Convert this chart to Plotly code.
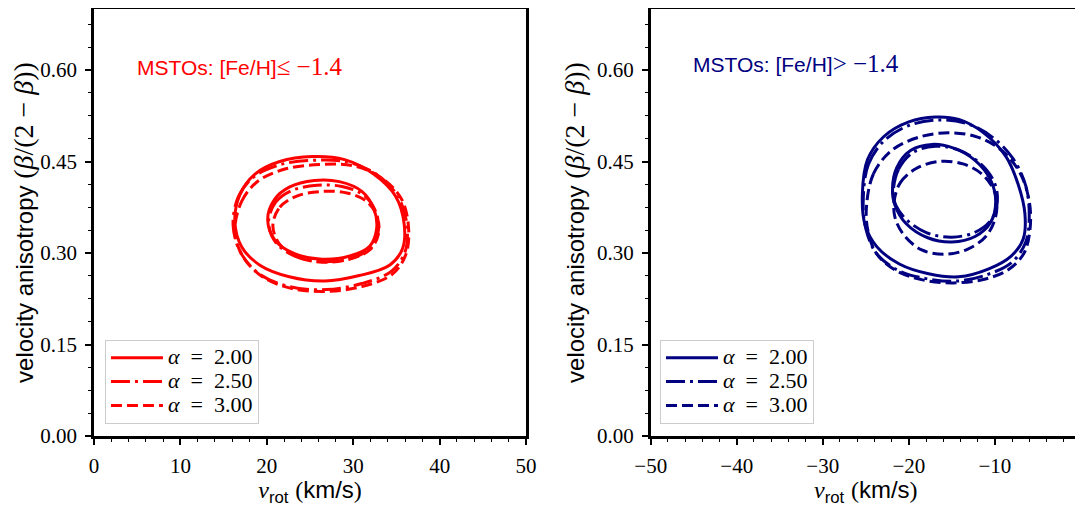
import plotly.graph_objects as go

# ---------------- data ----------------
alphas = ["2.00", "2.50", "3.00"]
dashes = ["solid", "19px,5px,3px,5px", "11px,5px"]

# Left panel: [Fe/H] <= -1.4  (v_rot km/s, beta/(2-beta))
L20_outer_v = [16.3, 16.9, 18.6, 21.5, 25.3, 29.0, 32.4, 34.9, 35.9, 35.7, 34.2, 30.7, 26.7, 22.6, 19.2, 17.1]
L20_outer_b = [0.352, 0.396, 0.429, 0.450, 0.458, 0.453, 0.429, 0.393, 0.347, 0.307, 0.280, 0.263, 0.254, 0.261, 0.280, 0.310]
L20_inner_v = [20.1, 20.9, 22.6, 25.5, 28.4, 31.0, 32.4, 32.7, 31.9, 29.6, 26.1, 23.2, 21.0]
L20_inner_b = [0.355, 0.388, 0.408, 0.419, 0.417, 0.401, 0.372, 0.339, 0.311, 0.295, 0.290, 0.299, 0.320]

L25_outer_v = [16.1, 16.7, 18.5, 21.6, 25.5, 29.4, 32.8, 35.2, 36.2, 36.0, 34.4, 31.0, 26.9, 22.6, 19.2, 17.0]
L25_outer_b = [0.345, 0.392, 0.425, 0.445, 0.452, 0.449, 0.428, 0.392, 0.347, 0.302, 0.270, 0.250, 0.240, 0.245, 0.265, 0.300]
L25_inner_v = [20.2, 21.0, 22.8, 25.8, 28.7, 31.2, 32.6, 32.9, 32.0, 29.7, 26.3, 23.4, 21.1]
L25_inner_b = [0.350, 0.383, 0.402, 0.411, 0.409, 0.395, 0.368, 0.336, 0.308, 0.291, 0.286, 0.294, 0.316]

L30_outer_v = [16.3, 17.1, 19.0, 22.2, 26.2, 30.0, 33.3, 35.6, 36.4, 36.1, 34.5, 31.0, 26.9, 22.8, 19.4, 17.2]
L30_outer_b = [0.335, 0.385, 0.418, 0.438, 0.445, 0.443, 0.423, 0.388, 0.342, 0.298, 0.265, 0.245, 0.237, 0.242, 0.262, 0.295]
L30_inner_v = [20.7, 21.5, 23.4, 26.5, 29.4, 31.6, 32.8, 32.9, 31.9, 29.6, 26.4, 23.6, 21.5]
L30_inner_b = [0.345, 0.375, 0.393, 0.401, 0.398, 0.384, 0.358, 0.330, 0.305, 0.290, 0.285, 0.293, 0.314]

# Right panel: [Fe/H] > -1.4
R20_outer_v = [-25.4, -24.8, -22.9, -20.0, -16.9, -14.2, -11.3, -8.7, -7.3, -6.5, -6.7, -8.1, -10.7, -14.2, -17.7, -21.1, -23.7, -25.1]
R20_outer_b = [0.396, 0.453, 0.491, 0.515, 0.523, 0.519, 0.497, 0.458, 0.413, 0.364, 0.323, 0.295, 0.274, 0.261, 0.266, 0.282, 0.310, 0.347]
R20_inner_v = [-21.9, -21.4, -19.8, -17.3, -14.8, -12.3, -10.5, -9.9, -10.5, -12.3, -15.0, -17.8, -20.3, -21.6]
R20_inner_b = [0.405, 0.440, 0.468, 0.478, 0.472, 0.452, 0.420, 0.385, 0.350, 0.327, 0.318, 0.325, 0.348, 0.378]

R25_outer_v = [-25.3, -24.7, -22.8, -19.8, -16.4, -13.2, -10.3, -7.9, -6.4, -6.0, -6.4, -8.0, -10.8, -14.4, -18.0, -21.3, -23.8, -25.0]
R25_outer_b = [0.385, 0.445, 0.485, 0.510, 0.518, 0.512, 0.490, 0.455, 0.410, 0.360, 0.318, 0.285, 0.265, 0.254, 0.258, 0.272, 0.300, 0.340]
R25_inner_v = [-21.8, -21.2, -19.5, -16.9, -14.2, -11.8, -10.1, -9.7, -10.4, -12.3, -15.0, -17.9, -20.3, -21.5]
R25_inner_b = [0.400, 0.437, 0.465, 0.475, 0.469, 0.448, 0.417, 0.385, 0.355, 0.334, 0.326, 0.333, 0.355, 0.378]

R30_outer_v = [-24.9, -24.1, -22.0, -18.8, -15.3, -12.0, -9.2, -7.1, -6.0, -5.9, -6.6, -8.4, -11.2, -14.8, -18.4, -21.6, -23.8, -24.8]
R30_outer_b = [0.380, 0.430, 0.468, 0.490, 0.497, 0.490, 0.468, 0.432, 0.385, 0.340, 0.300, 0.273, 0.257, 0.251, 0.256, 0.272, 0.300, 0.340]
R30_inner_v = [-21.7, -21.0, -19.2, -16.5, -13.7, -11.3, -9.9, -9.9, -11.0, -13.2, -15.8, -18.5, -20.6, -21.6]
R30_inner_b = [0.385, 0.415, 0.438, 0.450, 0.446, 0.427, 0.395, 0.360, 0.328, 0.306, 0.298, 0.305, 0.330, 0.358]

y_ticks = [0.00, 0.15, 0.30, 0.45, 0.60]

RED = "#ff0000"
NAVY = "#000080"
SERIF = "Liberation Serif, DejaVu Serif, serif"
SANS = "Liberation Sans, DejaVu Sans, sans-serif"
EN = "\u2002"

left_sets = [(L20_outer_v, L20_outer_b, L20_inner_v, L20_inner_b),
             (L25_outer_v, L25_outer_b, L25_inner_v, L25_inner_b),
             (L30_outer_v, L30_outer_b, L30_inner_v, L30_inner_b)]
right_sets = [(R20_outer_v, R20_outer_b, R20_inner_v, R20_inner_b),
              (R25_outer_v, R25_outer_b, R25_inner_v, R25_inner_b),
              (R30_outer_v, R30_outer_b, R30_inner_v, R30_inner_b)]


def closed(a):
    return list(a) + [a[0]]


fig = go.Figure()


def add_panel(sets, color, xa, ya, legend):
    for i, (ov, ob, iv, ib) in enumerate(sets):
        name = f"<span style='font-size:22px'><i>α</i>{EN}={EN}{alphas[i]}</span>"
        for j, (vv, bb) in enumerate([(ov, ob), (iv, ib)]):
            fig.add_trace(go.Scatter(
                x=closed(vv), y=closed(bb), mode="lines",
                line=dict(color=color, width=3, dash=dashes[i], shape="spline", smoothing=1.0),
                name=name, legendgroup=f"{legend}{i}", showlegend=(j == 0),
                xaxis=xa, yaxis=ya, legend=legend, hoverinfo="skip"))


add_panel(left_sets, RED, "x", "y", "legend")
add_panel(right_sets, NAVY, "x2", "y2", "legend2")

axis_common = dict(
    showline=True, linewidth=2.5, linecolor="black", mirror=True,
    showgrid=False, zeroline=False, automargin=False,
    ticks="outside", ticklen=6, tickwidth=1.5, tickcolor="black",
    ticklabeloverflow="allow",
    tickfont=dict(family=SERIF, size=21, color="black"),
)

xtitle = (f"<span style='font-family:{SERIF}'><i>v</i></span><sub>rot</sub>"
          f" <span style='font-family:{SERIF}'>(</span>km/s"
          f"<span style='font-family:{SERIF}'>)</span>")
ytitle = (f"velocity anisotropy <span style='font-family:{SERIF};font-size:28px'>"
          f"(<i>β</i>/(2 − <i>β</i>))</span>")

minor_y = dict(tickvals=[k * 0.0375 for k in range(19)], ticklen=3, tickwidth=1, tickcolor="black", ticks="outside")
minor_x = dict(dtick=2, ticklen=3, tickwidth=1, tickcolor="black", ticks="outside")

legend_common = dict(xanchor="left", yanchor="top",
                     bordercolor="#cccccc", borderwidth=1, bgcolor="rgba(255,255,255,0.8)",
                     font=dict(family=SERIF, size=16, color="black"), tracegroupgap=0,
                     itemwidth=52)

# page body adds an 8px offset; figure sized so that it fills the 1083x507 window
fig.update_layout(
    width=1075, height=499,
    margin=dict(l=0, r=0, t=1, b=71, autoexpand=False),
    paper_bgcolor="white", plot_bgcolor="white",
    font=dict(family=SANS, color="black"),
    xaxis=dict(domain=[0.0800, 0.4819], range=[0, 50], dtick=10, anchor="y", minor=minor_x,
               ticklabelstandoff=3,
               title=dict(text=xtitle, font=dict(family=SANS, size=24), standoff=13), **axis_common),
    yaxis=dict(domain=[0, 1], range=[0, 0.70], tickvals=y_ticks, tickformat=".2f", anchor="x",
               minor=minor_y, ticklabelstandoff=4,
               title=dict(text=ytitle, font=dict(family=SANS, size=24), standoff=6), **axis_common),
    xaxis2=dict(domain=[0.5979, 0.998], range=[-50, 0], dtick=10, anchor="y2", minor=minor_x,
                ticklabelstandoff=3,
                title=dict(text=xtitle, font=dict(family=SANS, size=24), standoff=13), **axis_common),
    yaxis2=dict(domain=[0, 1], range=[0, 0.70], tickvals=y_ticks, tickformat=".2f", anchor="x2",
                minor=minor_y, ticklabelstandoff=4,
                title=dict(text=ytitle, font=dict(family=SANS, size=24), standoff=6), **axis_common),
    legend=dict(x=0.0902, y=0.225, **legend_common),
    legend2=dict(x=0.6065, y=0.225, **legend_common),
    showlegend=True,
)

fig.add_annotation(xref="paper", yref="paper", x=0.118, y=0.8665, xanchor="left", yanchor="middle",
                   text=f"MSTOs: [Fe/H]<span style='font-family:{SERIF};font-size:25px'>≤ −1.4</span>",
                   showarrow=False, font=dict(family=SANS, size=21, color=RED))
fig.add_annotation(xref="paper", yref="paper", x=0.635, y=0.8735, xanchor="left", yanchor="middle",
                   text=f"MSTOs: [Fe/H]<span style='font-family:{SERIF};font-size:25px'>&gt; −1.4</span>",
                   showarrow=False, font=dict(family=SANS, size=21, color=NAVY))

fig.write_html("out.html")
